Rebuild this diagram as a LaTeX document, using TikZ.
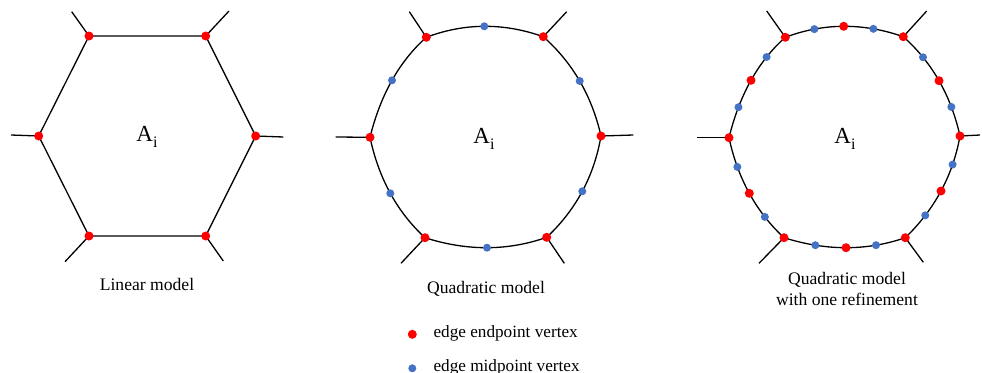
\documentclass[tikz,border=0pt]{standalone}
\usepackage{fontspec}
\setmainfont{Liberation Serif}
\usetikzlibrary{calc}
\definecolor{vred}{RGB}{255,0,0}
\definecolor{vblue}{RGB}{68,114,196}
\newcommand\Ai{A{\fontsize{16}{16}\selectfont\raisebox{-6pt}{i}}}
\begin{document}
\begin{tikzpicture}[x=1pt,y=-1pt,
  edge/.style={line width=1.3pt,black},
  enddot/.style={fill=vred},
  middot/.style={fill=vblue},
  lbl/.style={font=\fontsize{17.6}{21}\selectfont,align=center},
  leg/.style={font=\fontsize{17.2}{19}\selectfont,anchor=west},
  area/.style={font=\fontsize{23}{23}\selectfont}]
\useasboundingbox (0,0) rectangle (982,372);
% ---------- linear model ----------
\coordinate (a1) at (89,36);
\coordinate (a2) at (205.7,36);
\coordinate (a3) at (255.7,136);
\coordinate (a4) at (205.7,236);
\coordinate (a5) at (89,236);
\coordinate (a6) at (38.7,136);
\coordinate (s1) at (71.7,11.7);
\coordinate (s2) at (229,11);
\coordinate (s3) at (283.3,137);
\coordinate (s4) at (223.3,261);
\coordinate (s5) at (65,261.7);
\coordinate (s6) at (11,135);
\draw[edge] (a1)--(a2)--(a3)--(a4)--(a5)--(a6)--cycle;
\foreach \i in {1,...,6} \draw[edge] (a\i)--(s\i);
\foreach \i in {1,...,6} \fill[enddot] (a\i) circle (4.5pt);
\node[area] (A1) at (147,137) {\Ai};
\node[lbl] (L1) at (147,284) {Linear model};
% ---------- quadratic model ----------
\coordinate (b1) at (426.3,37.3);
\coordinate (b2) at (543.3,36.7);
\coordinate (b3) at (601,136);
\coordinate (b4) at (546.7,237.3);
\coordinate (b5) at (425,237.7);
\coordinate (b6) at (370,137.3);
\coordinate (m1) at (484.3,26.3);
\coordinate (m2) at (579.7,81);
\coordinate (m3) at (582.3,191.3);
\coordinate (m4) at (487,247.7);
\coordinate (m5) at (390.3,193.3);
\coordinate (m6) at (392,80.3);
\coordinate (t1) at (409.3,11.7);
\coordinate (t2) at (566.7,11.7);
\coordinate (t3) at (633.3,135);
\coordinate (t4) at (564.3,263.3);
\coordinate (t5) at (401,263.3);
\coordinate (t6) at (335.7,137);
\foreach \p/\m/\q in {b1/m1/b2,b2/m2/b3,b3/m3/b4,b4/m4/b5,b5/m5/b6,b6/m6/b1}
  \draw[edge] (\p) .. controls ($1.33333*(\m)-0.33333*(\q)$) and ($1.33333*(\m)-0.33333*(\p)$) .. (\q);
\foreach \i in {1,...,6} \draw[edge] (b\i)--(t\i);
\foreach \i in {1,...,6} \fill[enddot] (b\i) circle (4.5pt);
\foreach \i in {1,...,6} \fill[middot] (m\i) circle (4pt);
\node[area] (A2) at (484,139) {\Ai};
\node[lbl] (L2) at (486,289) {Quadratic model};
% ---------- refined quadratic model ----------
\coordinate (c1) at (785.3,37.3);
\coordinate (c2) at (903.3,36.7);
\coordinate (c3) at (960,136);
\coordinate (c4) at (905.3,237.7);
\coordinate (c5) at (784,237.7);
\coordinate (c6) at (729,137.7);
\coordinate (n1) at (843.7,26.3);
\coordinate (n2) at (939,80.7);
\coordinate (n3) at (941,191);
\coordinate (n4) at (846,247.7);
\coordinate (n5) at (749.3,193.3);
\coordinate (n6) at (751,80.3);
\coordinate (u1) at (766.7,11);
\coordinate (u2) at (926.7,11);
\coordinate (u3) at (980,135);
\coordinate (u4) at (923.3,262.3);
\coordinate (u5) at (759,263.3);
\coordinate (u6) at (696.7,137.7);
\foreach \p/\m/\q/\k in {c1/n1/c2/1,c2/n2/c3/2,c3/n3/c4/3,c4/n4/c5/4,c5/n5/c6/5,c6/n6/c1/6}
  \draw[edge] (\p) .. controls ($1.33333*(\m)-0.33333*(\q)$) and ($1.33333*(\m)-0.33333*(\p)$) .. (\q)
    coordinate[pos=0.25] (qa\k) coordinate[pos=0.75] (qb\k);
\foreach \i in {1,...,6} \draw[edge] (c\i)--(u\i);
\foreach \i in {1,...,6} \fill[enddot] (c\i) circle (4.5pt);
\foreach \i in {1,...,6} \fill[enddot] (n\i) circle (4.5pt);
\foreach \i in {1,...,6} {\fill[middot] (qa\i) circle (4pt); \fill[middot] (qb\i) circle (4pt);}
\node[area] (A3) at (845,139) {\Ai};
\node[lbl] (L3) at (847,289) {Quadratic model\\with one refinement};
% ---------- legend ----------
\fill[enddot] (412.3,334.3) circle (4.5pt) coordinate (ld1);
\fill[middot] (412.3,368.3) circle (4pt) coordinate (ld2);
\node[leg] (T1) at (430,333) {edge endpoint vertex};
\node[leg] (T2) at (430,367) {edge midpoint vertex};
\end{tikzpicture}
\end{document}
